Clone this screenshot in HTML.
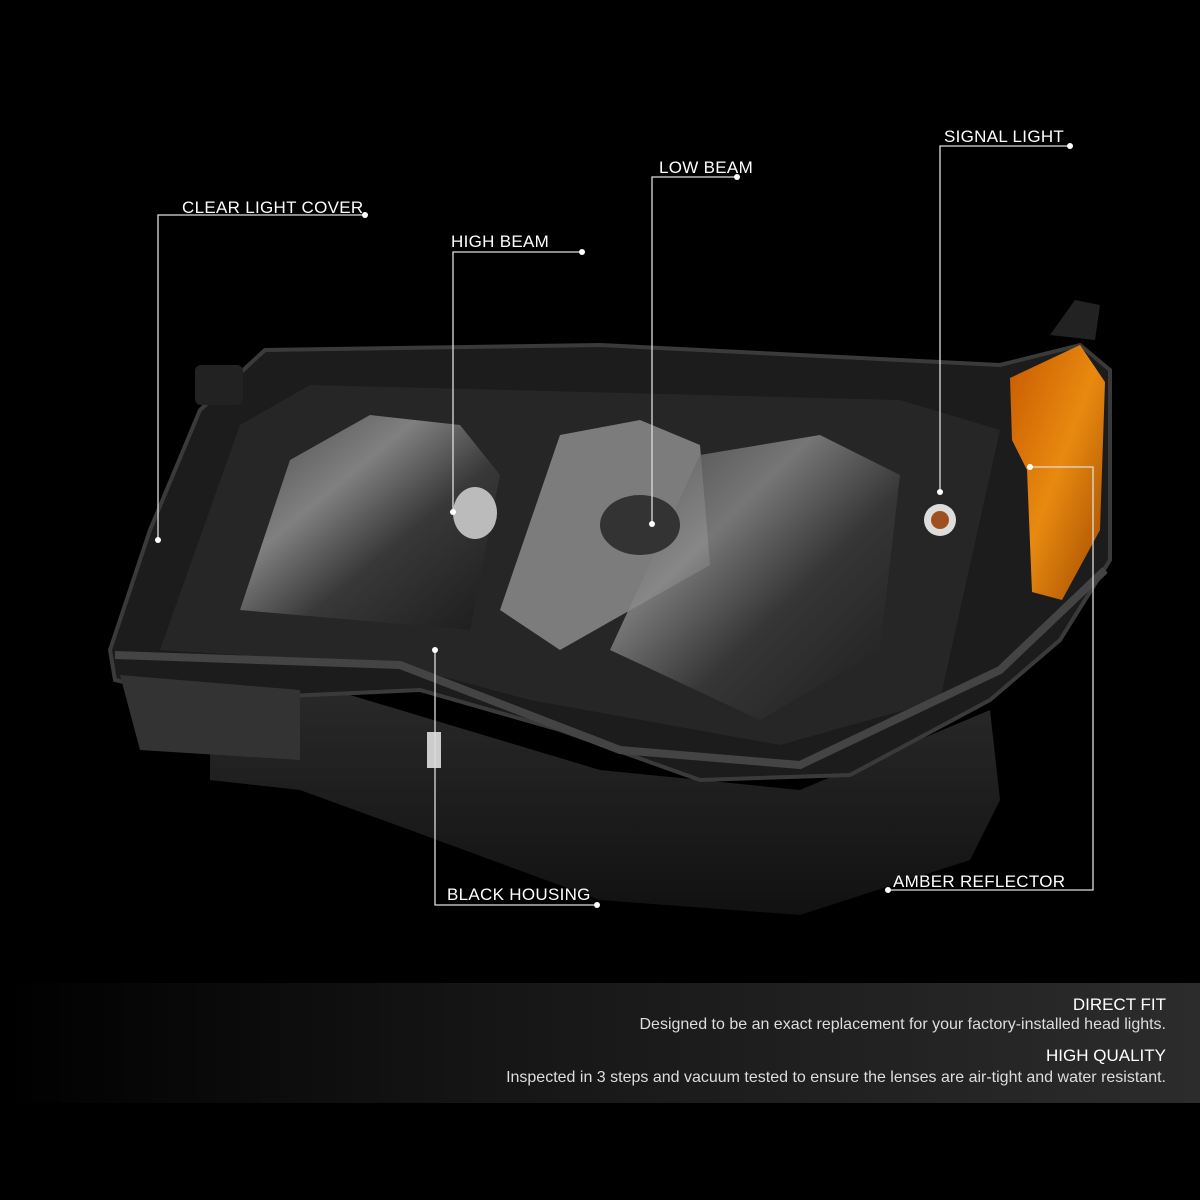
<!DOCTYPE html>
<html><head><meta charset="utf-8"><style>
html,body{margin:0;padding:0;background:#000;}
body{width:1200px;height:1200px;position:relative;overflow:hidden;font-family:"Liberation Sans",sans-serif;}
svg{position:absolute;left:0;top:0}
.lbl{position:absolute;color:#fff;font-size:17px;letter-spacing:0.3px;white-space:nowrap}
.banner{position:absolute;left:0;top:983px;width:1200px;height:120px;background:linear-gradient(90deg,#000 0%,#151515 40%,#2c2c2c 100%)}
.banner div{position:absolute;right:34px;color:#ddd;text-align:right;white-space:nowrap}
</style></head><body>
<svg width="1200" height="1200" viewBox="0 0 1200 1200">
<defs>
<linearGradient id="lens" x1="0" y1="0" x2="1" y2="1">
<stop offset="0" stop-color="#4a4a4a"/><stop offset="0.35" stop-color="#8a8a8a"/><stop offset="0.6" stop-color="#3a3a3a"/><stop offset="1" stop-color="#1a1a1a"/></linearGradient>
<linearGradient id="amb" x1="0" y1="0" x2="1" y2="1">
<stop offset="0" stop-color="#c85a00"/><stop offset="0.5" stop-color="#e88a10"/><stop offset="1" stop-color="#a04800"/></linearGradient>
<linearGradient id="hous" x1="0" y1="0" x2="0" y2="1">
<stop offset="0" stop-color="#2a2a2a"/><stop offset="1" stop-color="#111"/></linearGradient>
</defs>
<!-- housing bottom -->
<polygon points="210,700 300,680 600,770 800,790 990,710 1000,800 970,860 800,915 600,900 410,830 300,790 210,780" fill="url(#hous)"/>
<rect x="255" y="712" width="14" height="30" fill="#ccc"/>
<rect x="427" y="732" width="14" height="36" fill="#ccc"/>
<!-- outer lens -->
<path d="M110,650 L150,530 L200,410 L265,350 L600,345 L1000,365 L1080,345 L1110,370 L1110,560 L1060,640 L990,700 L850,775 L700,780 L560,730 L420,690 L200,700 L115,680 Z" fill="#1c1c1c" stroke="#3a3a3a" stroke-width="4"/>
<rect x="195" y="365" width="48" height="40" rx="6" fill="#222"/>
<polygon points="1050,335 1075,300 1100,305 1095,340" fill="#222"/>
<!-- inner reflector -->
<path d="M160,650 L240,425 L310,385 L900,400 L1000,430 L940,700 L780,745 L530,700 L400,665 Z" fill="#262626"/>
<path d="M240,610 L290,460 L370,415 L460,425 L500,475 L470,630 Z" fill="url(#lens)" opacity="0.9"/>
<path d="M500,610 L560,435 L640,420 L700,445 L710,565 L560,650 Z" fill="#9a9a9a" opacity="0.75"/>
<path d="M610,650 L700,455 L820,435 L900,475 L880,650 L760,720 Z" fill="url(#lens)" opacity="0.8"/>
<ellipse cx="475" cy="513" rx="22" ry="26" fill="#bbb"/>
<ellipse cx="640" cy="525" rx="40" ry="30" fill="#333"/>
<!-- lower trim -->
<path d="M115,655 L400,665 L620,750 L800,765 L1000,670 L1105,570" fill="none" stroke="#444" stroke-width="8"/>
<path d="M120,675 L140,750 L300,760 L300,690 Z" fill="#333"/>
<!-- amber -->
<polygon points="1010,378 1080,345 1105,382 1100,530 1062,600 1032,592 1027,470 1012,440" fill="url(#amb)"/>
<circle cx="940" cy="520" r="16" fill="#ddd"/><circle cx="940" cy="520" r="9" fill="#a05020"/>
<!-- callout lines -->
<g stroke="#ddd" stroke-width="1.3" fill="none">
<polyline points="365,215 158,215 158,540"/>
<polyline points="582,252 453,252 453,512"/>
<polyline points="737,177 652,177 652,524"/>
<polyline points="1070,146 940,146 940,492"/>
<polyline points="1030,467 1093,467 1093,890 888,890"/>
<polyline points="435,650 435,905 597,905"/>
</g>
<g fill="#fff">
<circle cx="365" cy="215" r="3"/><circle cx="158" cy="540" r="3"/>
<circle cx="582" cy="252" r="3"/><circle cx="453" cy="512" r="3"/>
<circle cx="737" cy="177" r="3"/><circle cx="652" cy="524" r="3"/>
<circle cx="1070" cy="146" r="3"/><circle cx="940" cy="492" r="3"/>
<circle cx="1030" cy="467" r="3"/><circle cx="888" cy="890" r="3"/>
<circle cx="435" cy="650" r="3"/><circle cx="597" cy="905" r="3"/>
</g>
</svg>
<div class="lbl" style="left:182px;top:198px">CLEAR LIGHT COVER</div>
<div class="lbl" style="left:451px;top:232px">HIGH BEAM</div>
<div class="lbl" style="left:659px;top:158px">LOW BEAM</div>
<div class="lbl" style="left:944px;top:127px">SIGNAL LIGHT</div>
<div class="lbl" style="left:893px;top:872px">AMBER REFLECTOR</div>
<div class="lbl" style="left:447px;top:885px">BLACK HOUSING</div>
<div class="banner">
<div style="top:12px;font-size:17px;color:#fff">DIRECT FIT</div>
<div style="top:33px;font-size:16px">Designed to be an exact replacement for your factory-installed head lights.</div>
<div style="top:63px;font-size:17px;color:#fff">HIGH QUALITY</div>
<div style="top:86px;font-size:16px">Inspected in 3 steps and vacuum tested to ensure the lenses are air-tight and water resistant.</div>
</div>
</body></html>
